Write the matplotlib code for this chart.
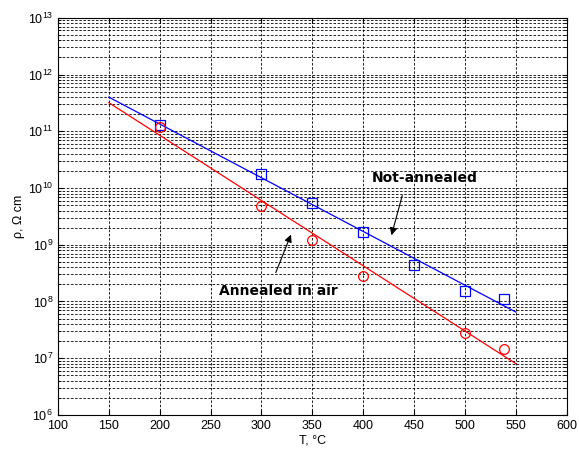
import numpy as np
import matplotlib
matplotlib.use('Agg')
import matplotlib.pyplot as plt
from matplotlib.patches import FancyArrowPatch
from matplotlib.ticker import FixedLocator, NullFormatter

# measured points
T_pts = [200, 300, 350, 400, 450, 500, 538]
rho_not_annealed = [1.3e11, 1.8e10, 5.5e9, 1.7e9, 4.4e8, 1.5e8, 1.1e8]
T_air = [200, 300, 350, 400, 500, 538]
rho_air = [1.2e11, 4.8e9, 1.2e9, 2.8e8, 2.8e7, 1.45e7]

# fit lines (endpoints)
T_fit = [150, 550]
fit_not_annealed = [4.0e11, 6.5e7]
fit_air = [3.2e11, 8.0e6]

x_ticks = [100, 150, 200, 250, 300, 350, 400, 450, 500, 550, 600]
decades = [6, 7, 8, 9, 10, 11, 12, 13]

plt.rcParams['font.family'] = ['Liberation Sans', 'DejaVu Sans']
fig = plt.figure(figsize=(5.79, 4.57), dpi=100)
ax = fig.add_axes([0.1, 0.092, 0.879, 0.869])

ax.semilogy(T_fit, fit_not_annealed, color='blue', lw=0.9)
ax.semilogy(T_fit, fit_air, color='red', lw=0.9)
ax.semilogy(T_pts, rho_not_annealed, 's', mfc='none', mec='blue', ms=7, mew=0.9)
ax.semilogy(T_air, rho_air, 'o', mfc='none', mec='red', ms=7, mew=0.9)

ax.set_xlim(100, 600)
ax.set_ylim(1e6, 1e13)
ax.set_xticks(x_ticks)
ax.yaxis.set_major_locator(FixedLocator([10.0 ** d for d in decades]))
ax.yaxis.set_minor_locator(FixedLocator([m * 10.0 ** d for d in decades[:-1]
                                         for m in range(2, 10)]))
ax.yaxis.set_minor_formatter(NullFormatter())

dash = (0, (3, 2))
ax.grid(True, which='major', axis='both', color='black', ls=dash, lw=0.6)
ax.grid(True, which='minor', axis='y', color='black', ls=dash, lw=0.6)
ax.tick_params(which='both', direction='in', top=True, right=True, labelsize=9)
ax.tick_params(which='minor', length=2)
for s in ax.spines.values():
    s.set_linewidth(0.8)

ax.set_xlabel('T, °C', fontsize=9, labelpad=2)
ax.set_ylabel('ρ, Ω cm', fontsize=9, labelpad=2)

ax.text(460, 1.5e10, 'Not-annealed', ha='center', va='center', fontsize=10,
        fontweight='bold', family='DejaVu Sans')
ax.add_patch(FancyArrowPatch((439, 8.2e9), (427, 1.32e9), arrowstyle='-|>',
                             color='black', lw=0.8, mutation_scale=11))
ax.text(317, 1.5e8, 'Annealed in air', ha='center', va='center', fontsize=10,
        fontweight='bold', family='DejaVu Sans')
ax.add_patch(FancyArrowPatch((313, 2.9e8), (330, 1.68e9), arrowstyle='-|>',
                             color='black', lw=0.8, mutation_scale=11))

fig.savefig('out.png', dpi=100)
